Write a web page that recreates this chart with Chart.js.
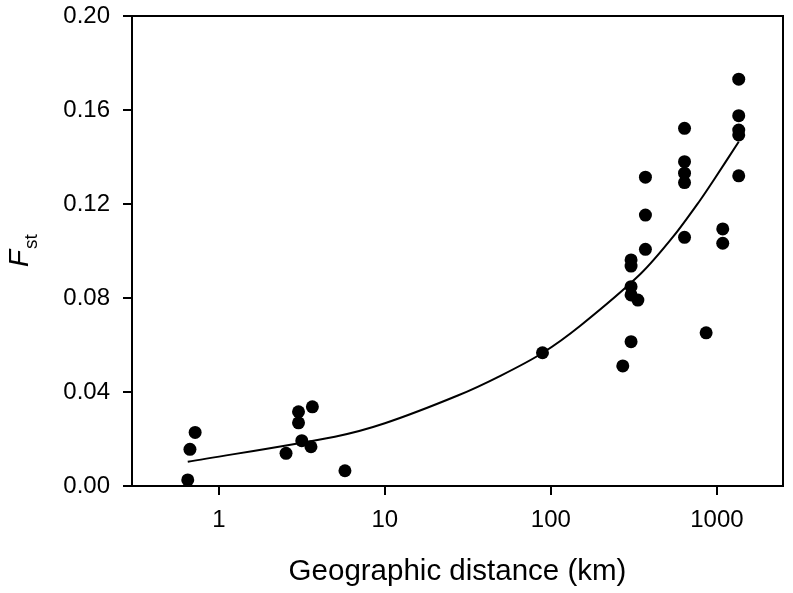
<!DOCTYPE html>
<html>
<head>
<meta charset="utf-8">
<script src="https://cdn.jsdelivr.net/npm/chart.js@4.4.0/dist/chart.umd.min.js"></script>
<style>
  html, body { margin: 0; padding: 0; background: #fff; }
</style>
</head>
<body>
<canvas id="fst_chart" width="793" height="593"></canvas>
<script>
// observed pairs (km, Fst)
var distance = [0.65, 0.67, 0.72, 2.54, 3.02, 3.02, 3.16, 3.59, 3.66, 5.75,
                89, 271, 304, 304, 304, 304, 304, 334, 371, 371, 371,
                638, 638, 638, 638, 638, 861, 1084, 1084,
                1353, 1353, 1353, 1353, 1353];
var fst = [0.0026, 0.0156, 0.0228, 0.0139, 0.0316, 0.0269, 0.0193, 0.0167, 0.0337, 0.0065,
           0.0567, 0.0511, 0.0962, 0.0936, 0.0848, 0.0813, 0.0614, 0.0791, 0.1314, 0.1153, 0.1007,
           0.1522, 0.1380, 0.1331, 0.1291, 0.1058, 0.0652, 0.1094, 0.1033,
           0.1731, 0.1576, 0.1515, 0.1494, 0.1320];

// fitted curve
var fitX = [0.65, 5.0, 10, 27.5, 50, 89, 151, 346, 548, 794, 953, 1353];
var fitY = [0.0103, 0.0210, 0.0267, 0.0385, 0.0470, 0.0566, 0.0683, 0.0902, 0.1063, 0.1217, 0.1300, 0.1465];

var xTicks = [1, 10, 100, 1000];
var yTicks = [0, 0.04, 0.08, 0.12, 0.16, 0.20];

var points = distance.map(function (d, i) { return {x: d, y: fst[i]}; });
var curve = fitX.map(function (d, i) { return {x: d, y: fitY[i]}; });

var FONT = "'Liberation Sans', Arial, sans-serif";

// box on top/right + axis titles
var framePlugin = {
  id: 'frame',
  afterDraw: function (chart) {
    var ctx = chart.ctx, a = chart.chartArea;
    ctx.save();
    ctx.strokeStyle = '#000';
    ctx.lineWidth = 2;
    ctx.beginPath();
    ctx.moveTo(a.left - 1, a.top);
    ctx.lineTo(a.right, a.top);
    ctx.lineTo(a.right, a.bottom);
    ctx.stroke();

    ctx.fillStyle = '#000';
    ctx.textAlign = 'center';
    ctx.textBaseline = 'alphabetic';
    ctx.font = '29.5px ' + FONT;
    ctx.fillText('Geographic distance (km)', (a.left + a.right) / 2, 580);

    // y title: italic F with subscript st
    ctx.translate(28, 267);
    ctx.rotate(-Math.PI / 2);
    ctx.textAlign = 'left';
    ctx.font = 'italic 28px ' + FONT;
    ctx.fillText('F', 0, 0);
    var w = ctx.measureText('F').width;
    ctx.font = '19px ' + FONT;
    ctx.fillText('st', w + 1, 9);
    ctx.restore();
  }
};

function noPad(scale) {
  scale.paddingTop = 0;
  scale.paddingBottom = 0;
  scale.paddingLeft = 0;
  scale.paddingRight = 0;
}

function start() {
  var ctx = document.getElementById('fst_chart').getContext('2d');
  new Chart(ctx, {
    type: 'scatter',
    data: {
      datasets: [
        {
          label: 'Fst',
          data: points,
          backgroundColor: '#000',
          borderColor: '#000',
          borderWidth: 0,
          pointRadius: 6.5,
          pointHoverRadius: 6.5
        },
        {
          type: 'line',
          label: 'fit',
          data: curve,
          showLine: true,
          borderColor: '#000',
          borderWidth: 2,
          pointRadius: 0,
          fill: false,
          tension: 0.3
        }
      ]
    },
    options: {
      responsive: false,
      animation: false,
      layout: { padding: { top: 16, right: 10, left: 0, bottom: 0 } },
      plugins: { legend: { display: false }, tooltip: { enabled: false } },
      scales: {
        x: {
          type: 'logarithmic',
          min: 0.3,
          max: 2500,
          afterBuildTicks: function (scale) {
            scale.ticks = xTicks.map(function (v) { return {value: v}; });
          },
          afterFit: function (scale) { scale.height = 107; noPad(scale); },
          grid: { drawOnChartArea: false, drawTicks: true, tickLength: 9, lineWidth: 2, color: '#000' },
          border: { display: true, color: '#000', width: 2 },
          ticks: {
            color: '#000',
            font: { family: FONT, size: 24 },
            padding: 11,
            maxRotation: 0,
            callback: function (v) { return String(v); }
          }
        },
        y: {
          min: 0,
          max: 0.2,
          afterBuildTicks: function (scale) {
            scale.ticks = yTicks.map(function (v) { return {value: v}; });
          },
          afterFit: function (scale) { scale.width = 132; noPad(scale); },
          grid: { drawOnChartArea: false, drawTicks: true, tickLength: 9, lineWidth: 2, color: '#000' },
          border: { display: true, color: '#000', width: 2 },
          ticks: {
            color: '#000',
            font: { family: FONT, size: 24 },
            padding: 13,
            callback: function (v) { return v.toFixed(2); }
          }
        }
      }
    },
    plugins: [framePlugin]
  });
}

window.onload = start;
</script>
</body>
</html>
